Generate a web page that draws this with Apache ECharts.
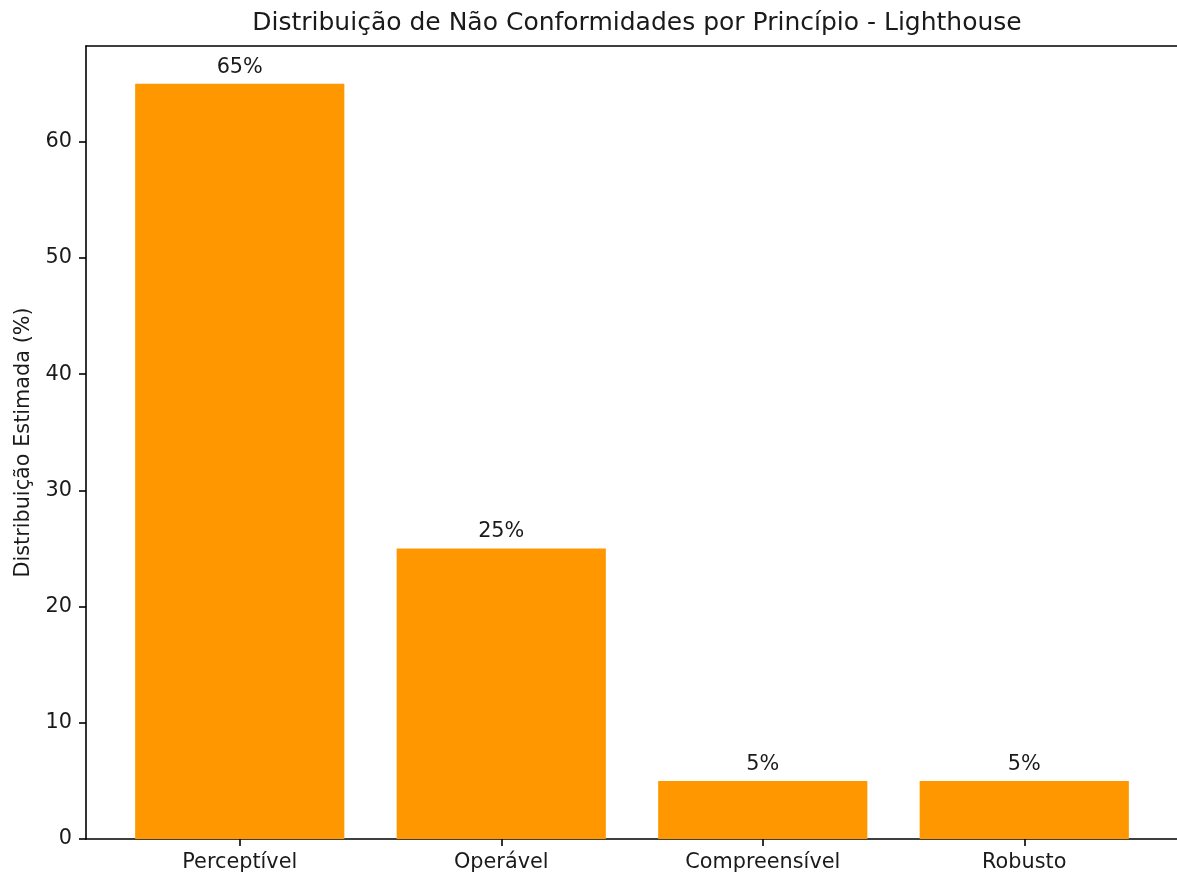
<!DOCTYPE html>
<html>
<head>
<meta charset="utf-8">
<script src="https://cdn.jsdelivr.net/npm/echarts@6/dist/echarts.min.js"></script>
<style>
html,body{margin:0;padding:0;background:#fff;}
#chart{width:1177px;height:876px;}
</style>
</head>
<body>
<div id="chart"></div>
<script>
const categories = ['Perceptível', 'Operável', 'Compreensível', 'Robusto'];
const values = [65, 25, 5, 5];
const valueLabels = ['65%', '25%', '5%', '5%'];
const titleText = 'Distribuição de Não Conformidades por Princípio - Lighthouse';
const yAxisName = 'Distribuição Estimada (%)';

const FONT = 'DejaVu Sans';
const TXT = '#1a1a1a';
const FS = 20.8;
const lineStyle = { color: '#000', width: 1.6 };

const chart = echarts.init(document.getElementById('chart'), null, { renderer: 'canvas' });
chart.setOption({
  animation: false,
  backgroundColor: '#fff',
  textStyle: { fontFamily: FONT },
  title: {
    text: titleText,
    left: 632,
    textAlign: 'center',
    top: 6,
    textStyle: { fontFamily: FONT, fontSize: 25, fontWeight: 'normal', color: TXT }
  },
  grid: [
    { left: 86, right: -2, top: 46, bottom: 37 },
    { left: 109, right: 22, top: 46, bottom: 37 }
  ],
  xAxis: [
    { gridIndex: 0, type: 'value', min: 0, max: 1, position: 'bottom',
      axisLine: { show: true, lineStyle }, axisTick: { show: false },
      axisLabel: { show: false }, splitLine: { show: false } },
    { gridIndex: 0, type: 'value', min: 0, max: 1, position: 'top',
      axisLine: { show: true, lineStyle }, axisTick: { show: false },
      axisLabel: { show: false }, splitLine: { show: false } },
    { gridIndex: 1, type: 'category', data: categories, position: 'bottom',
      axisLine: { show: false },
      axisTick: { show: true, alignWithLabel: true, length: 7, lineStyle },
      axisLabel: { margin: 13, fontFamily: FONT, fontSize: FS, color: TXT },
      splitLine: { show: false } }
  ],
  yAxis: [
    { gridIndex: 0, type: 'value', min: 0, max: 68.25, interval: 10,
      axisLine: { show: true, lineStyle },
      axisTick: { show: true, length: 7, lineStyle },
      axisLabel: { margin: 14, fontFamily: FONT, fontSize: FS, color: TXT,
        showMaxLabel: false },
      splitLine: { show: false },
      name: yAxisName, nameLocation: 'middle', nameRotate: 90, nameGap: 52,
      nameTextStyle: { fontFamily: FONT, fontSize: FS, color: TXT } },
    { gridIndex: 1, type: 'value', min: 0, max: 68.25, show: false }
  ],
  series: [{
    type: 'bar',
    xAxisIndex: 2,
    yAxisIndex: 1,
    data: values,
    barWidth: '80%',
    itemStyle: { color: '#ff9800' },
    label: {
      show: true, position: 'top', distance: 6,
      formatter: p => valueLabels[p.dataIndex],
      fontFamily: FONT, fontSize: FS, color: TXT
    }
  }]
});
</script>
</body>
</html>
